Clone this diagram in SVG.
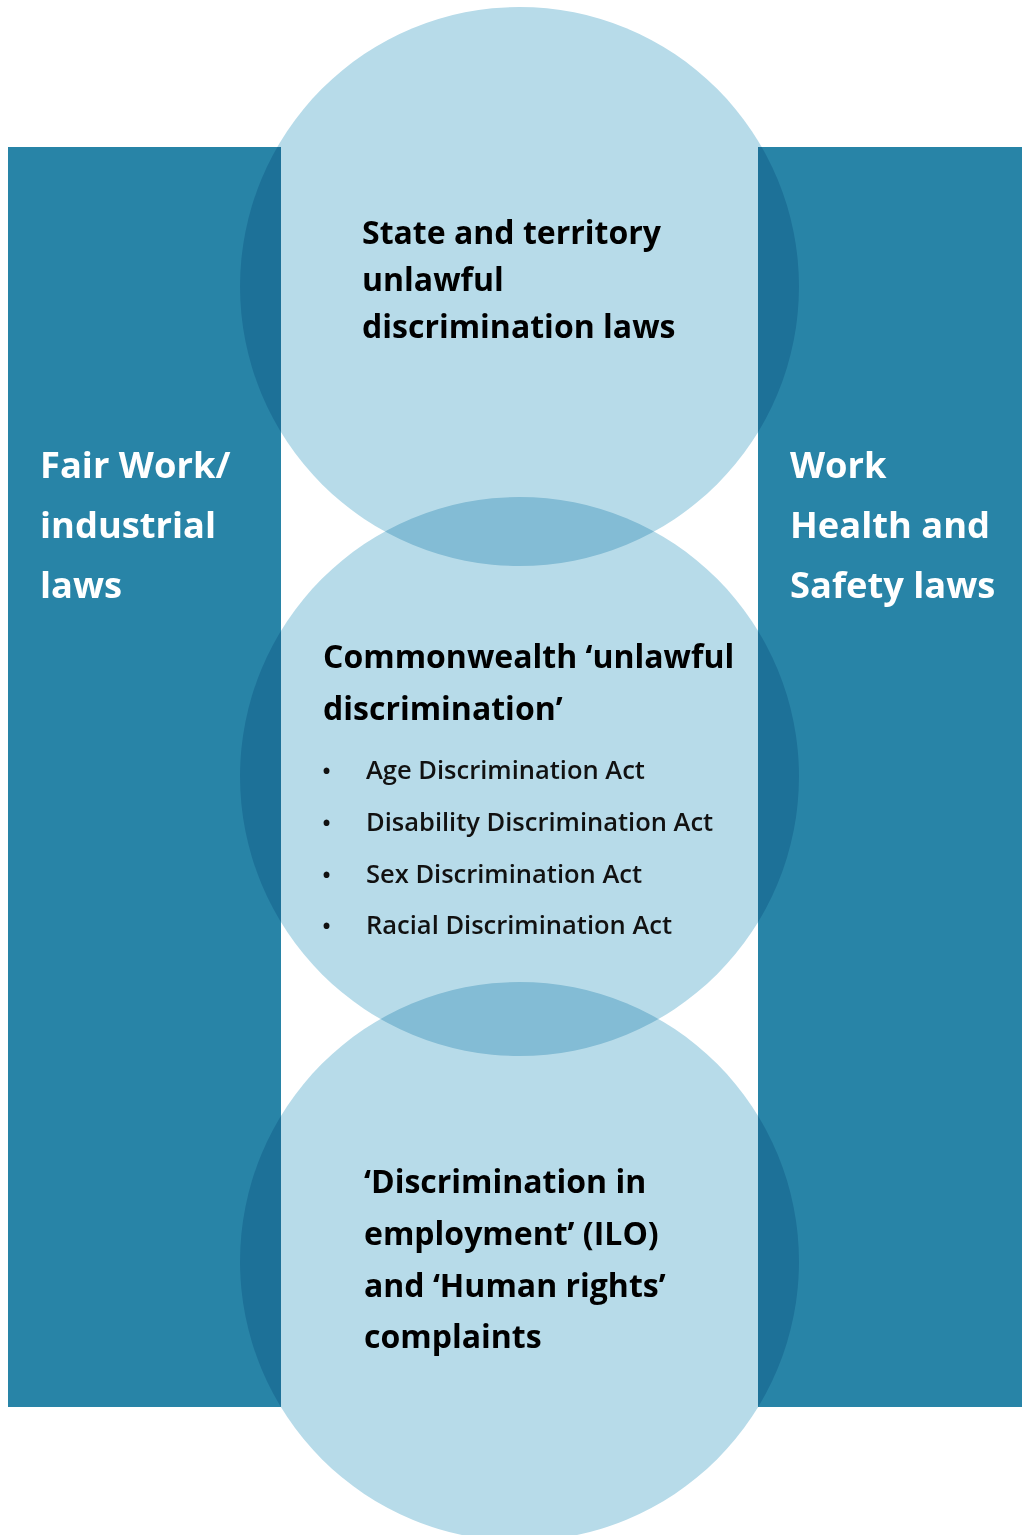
<svg xmlns="http://www.w3.org/2000/svg" width="1022" height="1535" viewBox="0 0 1022 1535">
<style>
.band{fill:#2884a7}
.circ{fill:#b7dbe9;mix-blend-mode:multiply}
.hd{font-family:"Open Sans","Noto Sans",sans-serif;font-weight:700;fill:#000}
.side{font-family:"Open Sans","Noto Sans",sans-serif;font-weight:700;fill:#fff;font-size:36.3px}
.li{font-family:"Open Sans","Noto Sans",sans-serif;font-weight:600;fill:#111;font-size:25.5px}
.bu{font-family:"Open Sans","Noto Sans",sans-serif;font-weight:600;fill:#111;font-size:24px}
</style>
<rect width="1022" height="1535" fill="#fff"/>
<g id="left-band"><rect class="band" x="8" y="147" width="273" height="1260"/>
<text class="side" x="40" y="478">Fair Work/</text><text class="side" x="40" y="538">industrial</text><text class="side" x="40" y="598">laws</text></g>
<g id="right-band"><rect class="band" x="758" y="147" width="264" height="1260"/>
<text class="side" x="790" y="478">Work</text><text class="side" x="790" y="538">Health and</text><text class="side" x="790" y="598">Safety laws</text></g>
<g id="circles">
<circle id="c-top" class="circ" cx="519.5" cy="286.5" r="279.5"/>
<circle id="c-mid" class="circ" cx="519.5" cy="776.5" r="279.5"/>
<circle id="c-bot" class="circ" cx="519.5" cy="1261.5" r="279.5"/>
</g>
<g id="node-state">
<text class="hd" font-size="32" x="362" y="244">State and territory</text>
<text class="hd" font-size="32" x="362" y="291">unlawful</text>
<text class="hd" font-size="32" x="362" y="338">discrimination laws</text>
</g>
<g id="node-commonwealth">
<text class="hd" font-size="32" x="323" y="668">Commonwealth ‘unlawful</text>
<text class="hd" font-size="32" x="323" y="720">discrimination’</text>
<text class="bu" x="322" y="779">•</text><text class="li" x="366" y="779">Age Discrimination Act</text>
<text class="bu" x="322" y="831">•</text><text class="li" x="366" y="831">Disability Discrimination Act</text>
<text class="bu" x="322" y="883">•</text><text class="li" x="366" y="883">Sex Discrimination Act</text>
<text class="bu" x="322" y="934">•</text><text class="li" x="366" y="934">Racial Discrimination Act</text>
</g>
<g id="node-ilo">
<text class="hd" font-size="32" x="364" y="1193">‘Discrimination in</text>
<text class="hd" font-size="32" x="364" y="1245">employment’ (ILO)</text>
<text class="hd" font-size="32" x="364" y="1297">and ‘Human rights’</text>
<text class="hd" font-size="32" x="364" y="1348">complaints</text>
</g>
<g id="connectors"/>
</svg>
